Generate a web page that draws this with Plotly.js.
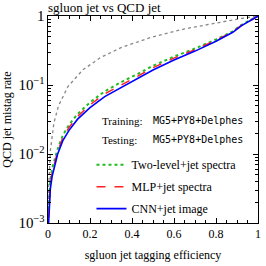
<!DOCTYPE html>
<html>
<head>
<meta charset="utf-8">
<script src="https://cdn.plot.ly/plotly-3.0.1.min.js"></script>
<style>html,body{margin:0;padding:0;background:#fff;}#chart{width:266px;height:266px;}</style>
</head>
<body>
<div id="chart"></div>
<script>
// Signal efficiency grid shared by the three classifier curves
const effGrid = [0.003,0.006,0.011,0.02,0.03,0.046,0.07,0.1,0.141,0.2,0.27,0.36,0.43,0.5,0.6,0.7,0.8,0.88,0.92,0.96,1];
const twoLevel = [0.0016,0.0028,0.0042,0.0062,0.0082,0.0118,0.0185,0.0265,0.038,0.056,0.081,0.115,0.146,0.19,0.258,0.338,0.456,0.60,0.74,0.85,1];
const mlp = [0.0012,0.0021,0.0036,0.0054,0.0073,0.0109,0.017,0.0242,0.035,0.0515,0.0745,0.106,0.136,0.178,0.245,0.325,0.445,0.59,0.73,0.845,1];
const cnn = [0.001,0.0016,0.0031,0.0048,0.0066,0.01,0.0155,0.022,0.032,0.047,0.068,0.097,0.125,0.165,0.23,0.31,0.43,0.58,0.72,0.84,1];
// Random-guess reference curve
const randEff = [0.001,0.003,0.011,0.028,0.05,0.095,0.165,0.25,0.35,0.49,0.65,0.81,0.915,1];
const randMistag = [0.001,0.003,0.011,0.028,0.05,0.095,0.165,0.25,0.35,0.49,0.65,0.81,0.915,1];

const xTicks = [0,0.2,0.4,0.6,0.8,1];
const xTickText = ['0','0.2','0.4','0.6','0.8','1'];

const serif = 'Liberation Serif, Times New Roman, serif';
const mono = 'DejaVu Sans Mono, monospace';

const traces = [
  {x: randEff, y: randMistag, mode:'lines', line:{color:'#888888', width:1.3, dash:'dot'}, showlegend:false, hoverinfo:'skip'},
  {x: effGrid, y: twoLevel, mode:'lines', name:'Two-level+jet spectra', legendgroup:'a', line:{color:'#22bb22', width:2, dash:'dot'}},
  {x: effGrid, y: mlp, mode:'lines', name:'MLP+jet spectra', legendgroup:'b', line:{color:'#ff2222', width:1.5, dash:'dash'}},
  {x: effGrid, y: cnn, mode:'lines', name:'CNN+jet image', legendgroup:'c', line:{color:'#0000ff', width:1.6}}
];

const axCommon = {
  showline:true, linecolor:'#000', linewidth:1, mirror:'allticks',
  ticks:'inside', ticklen:5, tickcolor:'#000', showgrid:false, zeroline:false,
  tickfont:{family:serif, size:12, color:'#000'}
};

const layout = {
  width:266, height:266,
  margin:{l:48, r:8, t:16, b:43},
  paper_bgcolor:'#fff', plot_bgcolor:'#fff',
  font:{family:serif, color:'#000'},
  title:{text:'sgluon jet vs QCD jet', font:{family:serif, size:13, color:'#000'}, xref:'paper', x:0, xanchor:'left', yref:'container', y:0.972, yanchor:'middle'},
  xaxis:Object.assign({}, axCommon, {
    range:[0,1], tickvals:xTicks, ticktext:xTickText,
    minor:{dtick:0.05, ticks:'inside', ticklen:3, tickcolor:'#000'},
    title:{text:'sgluon jet tagging efficiency', font:{family:serif, size:12, color:'#000'}, standoff:10}
  }),
  yaxis:Object.assign({}, axCommon, {
    type:'log', range:[-3,0], dtick:1, exponentformat:'power',
    minor:{ticks:'inside', ticklen:3, tickcolor:'#000'},
    title:{text:'QCD jet mistag rate', font:{family:serif, size:12, color:'#000'}, standoff:4}
  }),
  showlegend:true,
  legend:{x:0.207, xanchor:'left', y:0.352, yanchor:'top', bgcolor:'rgba(0,0,0,0)', borderwidth:0,
          font:{family:serif, size:12, color:'#000'}, tracegroupgap:3, traceorder:'grouped'},
  annotations:[
    {text:'Training:', xref:'paper', yref:'paper', x:0.246, y:0.495, xanchor:'left', yanchor:'middle', showarrow:false, font:{family:serif, size:11, color:'#000'}},
    {text:'MG5+PY8+Delphes', xref:'paper', yref:'paper', x:0.4905, y:0.495, xanchor:'left', yanchor:'middle', showarrow:false, font:{family:mono, size:10, color:'#000'}},
    {text:'Testing:', xref:'paper', yref:'paper', x:0.246, y:0.402, xanchor:'left', yanchor:'middle', showarrow:false, font:{family:serif, size:11, color:'#000'}},
    {text:'MG5+PY8+Delphes', xref:'paper', yref:'paper', x:0.4905, y:0.402, xanchor:'left', yanchor:'middle', showarrow:false, font:{family:mono, size:10, color:'#000'}}
  ]
};

Plotly.newPlot('chart', traces, layout, {displayModeBar:false, staticPlot:true});
</script>
</body>
</html>
